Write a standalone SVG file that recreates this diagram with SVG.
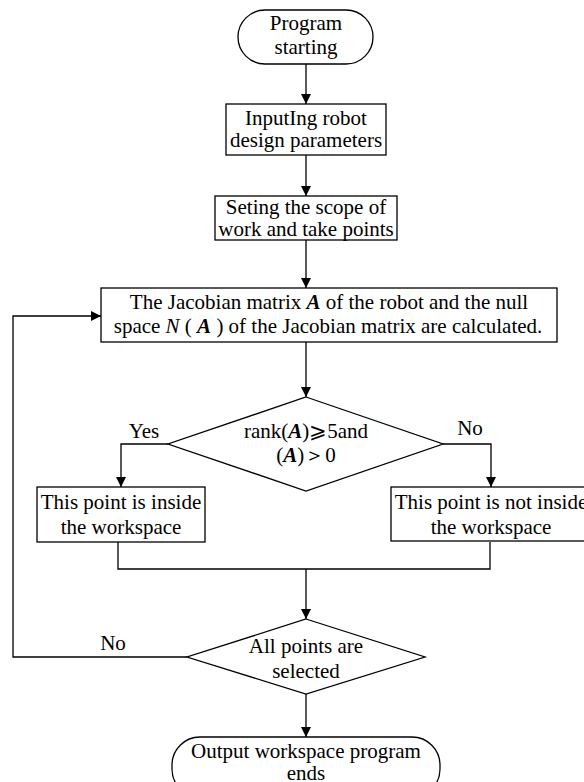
<svg xmlns="http://www.w3.org/2000/svg" width="584" height="782" viewBox="0 0 584 782">
<defs>
<marker id="ah" markerUnits="userSpaceOnUse" markerWidth="11" markerHeight="11" refX="10" refY="5" orient="auto">
<path d="M0,0 L10,5 L0,10 z" fill="#000"/>
</marker>
<style>
.s{fill:#fff;stroke:#000;stroke-width:1.3}
.c{fill:none;stroke:#000;stroke-width:1.3}
.t{font-family:"Liberation Serif","Times New Roman",serif;font-size:21px;fill:#000;text-anchor:middle}
.bi{font-weight:bold;font-style:italic}
.i{font-style:italic}
</style>
</defs>
<rect width="584" height="782" fill="#fff"/>
<g id="connectors">
<path class="c" d="M306,64 V104" marker-end="url(#ah)"/>
<path class="c" d="M306,155 V196" marker-end="url(#ah)"/>
<path class="c" d="M306,240 V288" marker-end="url(#ah)"/>
<path class="c" d="M306,342 V397" marker-end="url(#ah)"/>
<path class="c" d="M168,444 H121 V487" marker-end="url(#ah)"/>
<path class="c" d="M443,444 H491 V487" marker-end="url(#ah)"/>
<path class="c" d="M118,542 V569 H490 V542"/>
<path class="c" d="M306,569 V619" marker-end="url(#ah)"/>
<path class="c" d="M187,657 H13 V316 H101" marker-end="url(#ah)"/>
<path class="c" d="M306,694 V737" marker-end="url(#ah)"/>
<text class="t" x="144" y="438">Yes</text>
<text class="t" x="470" y="435">No</text>
<text class="t" x="113" y="650">No</text>
</g>
<g id="start">
<rect class="s" x="238" y="10" width="135" height="54" rx="27"/>
<text class="t" x="306" y="30">Program</text>
<text class="t" x="306" y="54">starting</text>
</g>
<g id="input">
<rect class="s" x="226" y="104" width="160" height="51"/>
<text class="t" x="306" y="125">InputIng robot</text>
<text class="t" x="306" y="147">design parameters</text>
</g>
<g id="scope">
<rect class="s" x="215" y="196" width="182" height="44"/>
<text class="t" x="306" y="214">Seting the scope of</text>
<text class="t" x="306" y="236">work and take points</text>
</g>
<g id="jacobian">
<rect class="s" x="101" y="288" width="456" height="54"/>
<text class="t" x="329" y="309">The Jacobian matrix <tspan class="bi">A</tspan> of the robot and the null</text>
<text class="t" x="328" y="333">space <tspan class="i">N</tspan> ( <tspan class="bi">A</tspan> ) of the Jacobian matrix are calculated.</text>
</g>
<g id="rank">
<polygon class="s" points="306,397 443,444 306,491 168,444"/>
<text class="t" x="306" y="438">rank(<tspan class="bi">A</tspan>)⩾5and</text>
<text class="t" x="306" y="462">(<tspan class="bi">A</tspan>)＞0</text>
</g>
<g id="inside">
<rect class="s" x="37" y="487" width="168" height="55"/>
<text class="t" x="121" y="509">This point is inside</text>
<text class="t" x="121" y="534">the workspace</text>
</g>
<g id="outside">
<rect class="s" x="391" y="487" width="200" height="54"/>
<text class="t" x="491" y="509">This point is not inside</text>
<text class="t" x="491" y="534">the workspace</text>
</g>
<g id="allpoints">
<polygon class="s" points="306,619 425,657 306,694 187,657"/>
<text class="t" x="306" y="653">All points are</text>
<text class="t" x="306" y="678">selected</text>
</g>
<g id="end">
<rect class="s" x="172" y="737" width="268" height="60" rx="28"/>
<text class="t" x="306" y="758">Output workspace program</text>
<text class="t" x="306" y="780">ends</text>
</g>
</svg>
